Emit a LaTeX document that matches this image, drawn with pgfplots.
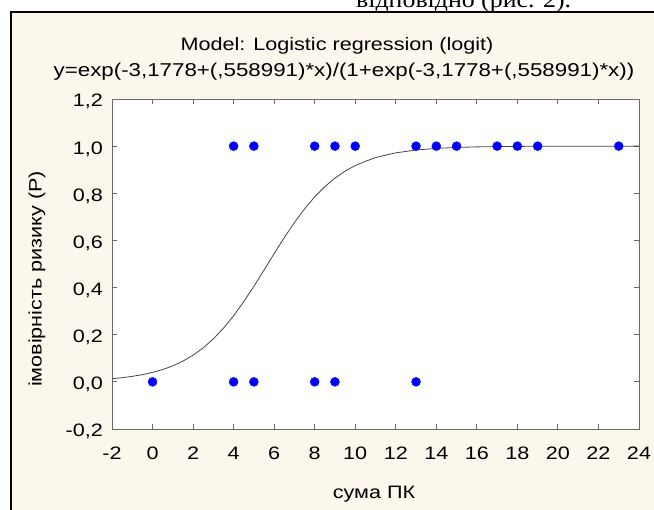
\documentclass[border=0pt]{standalone}
\usepackage{pgfplots}
\pgfplotsset{compat=1.18}
\usepackage{fontspec}
\setmainfont{Liberation Sans}[FakeStretch=1.2]
\newfontfamily\serifcut{Liberation Serif}[FakeStretch=1.1]
\definecolor{bgcream}{RGB}{251,247,237}
\definecolor{axgray}{RGB}{105,105,105}
\definecolor{curvegray}{RGB}{70,70,70}
\newcommand{\lf}{\fontsize{18bp}{21bp}\selectfont}

\begin{document}
\begin{tikzpicture}
\clip (0,0) rectangle (654bp,510bp);
\fill[white] (0,0) rectangle (654bp,510bp);
\fill[bgcream] (11bp,0) rectangle (654bp,498bp);
\draw[black, line width=2.5bp] (11bp,-2bp) -- (11bp,498bp) -- (656bp,498bp);
\node[anchor=base west, inner sep=0pt, font=\serifcut\fontsize{23.5bp}{25bp}\selectfont] at (356bp,502bp) {відповідно (рис. 2).};
\node[anchor=base, inner sep=0pt, font=\lf] at (337bp,459bp) {Model: Logistic regression (logit)};
\node[anchor=base, inner sep=0pt, font=\fontsize{18.6bp}{21bp}\selectfont] at (344bp,433bp) {y=exp(-3,1778+(,558991)*x)/(1+exp(-3,1778+(,558991)*x))};
\node[anchor=base, inner sep=0pt, font=\lf] at (374bp,12bp) {сума ПК};
\node[rotate=90, anchor=center, inner sep=0pt, font=\lf] at (37bp,231bp) {імовірність ризику (P)};
\begin{axis}[
  at={(112bp,81bp)}, anchor=south west,
  scale only axis, width=527bp, height=330bp,
  xmin=-2, xmax=24, ymin=-0.2, ymax=1.2,
  xtick={-2,0,2,4,6,8,10,12,14,16,18,20,22,24},
  ytick={-0.2,0,0.2,0.4,0.6,0.8,1.0,1.2},
  tick align=inside, major tick length=5bp,
  axis line style={axgray, line width=0.9bp},
  every tick/.style={axgray, line width=0.9bp},
  axis background/.style={fill=white},
  /pgf/number format/assume math mode=true,
  yticklabel style={/pgf/number format/use comma, /pgf/number format/fixed, /pgf/number format/fixed zerofill, /pgf/number format/precision=1},
  yticklabel style={font=\lf, anchor=base east, inner sep=0pt, xshift=-9bp, yshift=-8bp},
  xticklabel style={font=\lf, anchor=base, inner sep=0pt, yshift=-31bp},
]
\addplot[curvegray, line width=0.8bp] coordinates {
(-2,0.01345) (-1.5,0.0177) (-1,0.02328) (-0.5,0.03055) (0,0.0400) (0.5,0.05223)
(1,0.06793) (1.5,0.08791) (2,0.11306) (2.5,0.14427) (3,0.18231) (3.5,0.22771)
(4,0.28054) (4.5,0.34021) (5,0.40545) (5.5,0.47419) (6,0.54393) (6.5,0.61198)
(7,0.67593) (7.5,0.73393) (8,0.78485) (8.5,0.82830) (9,0.86450) (9.5,0.89403)
(10,0.91775) (10.5,0.93551) (11,0.95125) (11.5,0.96190) (12,0.97153) (13,0.98352) (14,0.99051)
(15,0.99455) (16,0.99688) (18,0.99898) (20,0.99967) (22,0.99989) (24,0.99996)
};
\addplot[only marks, mark=*, mark size=4.5bp, blue, mark options={draw=blue, fill=blue}] coordinates {
(4,1) (5,1) (8,1) (9,1) (10,1) (13,1) (14,1) (15,1) (17,1) (18,1) (19,1) (23,1)
(0,0) (4,0) (5,0) (8,0) (9,0) (13,0)
};
\end{axis}
\end{tikzpicture}
\end{document}
